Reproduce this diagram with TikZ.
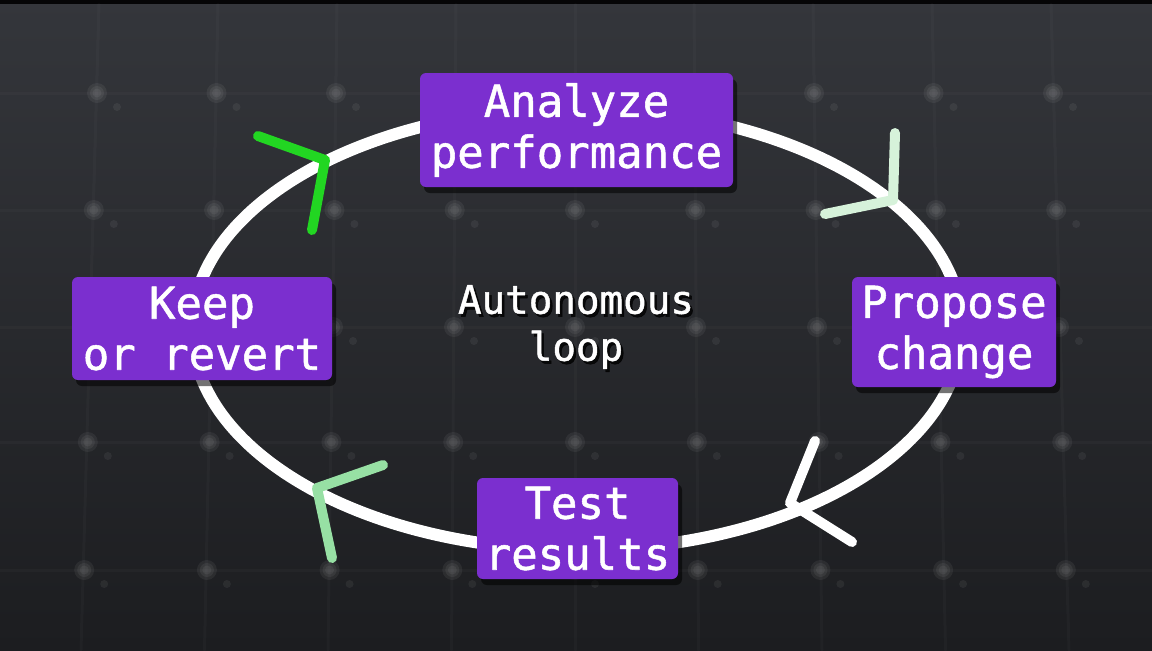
\documentclass[tikz,border=0pt]{standalone}
\usepackage{fontspec}
\newfontfamily\loopfont{DejaVu Sans Mono}[FakeBold=1.2]
\usetikzlibrary{positioning, shadows}
\definecolor{bgtop}{HTML}{34363B}
\definecolor{bgbottom}{HTML}{1C1D20}
\definecolor{stepviolet}{HTML}{7B2FCF}
\definecolor{chevpale}{HTML}{D6F2DA}
\definecolor{chevmint}{HTML}{97E0A4}
\definecolor{chevgreen}{HTML}{22D622}

\begin{document}
\begin{tikzpicture}[x=0.5pt, y=-0.5pt, line cap=round, line join=round,
  stepbox/.style={fill=stepviolet, rounded corners=3pt, text=white, align=center, inner sep=0pt,
    font=\loopfont\fontsize{22pt}{25.5pt}\selectfont,
    drop shadow={shadow xshift=2pt, shadow yshift=-3pt, fill=black, opacity=0.55}},
  hubtext/.style={align=center, inner sep=0pt, font=\loopfont\fontsize{19.6pt}{23.5pt}\selectfont},
  ring/.style={draw=white, line width=6pt},
  chevron/.style={line width=5pt},
  gridline/.style={white, opacity=0.025, line width=1.5pt},
  griddot/.style={fill=white, opacity=0.06}]
\useasboundingbox (0,0) rectangle (1152,650);
\fill[top color=bgtop, bottom color=bgbottom] (0,0) rectangle (1152,650);
\fill[black!90!bgtop] (0,0) rectangle (1152,4);
\foreach \k in {-4,...,4}
  \draw[gridline] ({575+\k*119},4) -- ({575+\k*123.5},650);
\foreach \y/\s in {93/119.5, 210/120.3, 327/121, 442/121.8, 570/122.7} {
  \draw[gridline] (0,\y) -- (1152,\y);
  \foreach \k in {-4,...,4} {
    \fill[griddot] ({575+\k*\s},\y) circle (10);
    \fill[griddot] ({575+\k*\s},\y) circle (7);
    \fill[griddot] ({575+\k*\s},\y) circle (4.5);
    \fill[griddot] ({575+\k*\s+20},{\y+14}) circle (4);
  }
}

\coordinate (hub) at (577,329);
\draw[ring] (hub) ellipse [x radius=385, y radius=221];

\draw[chevron, chevpale] (895,133) -- (893,200) -- (825,214);
\draw[chevron, white] (815,441) -- (790,503) -- (852,542);
\draw[chevron, chevmint] (383,465) -- (317,488) -- (332,558);
\draw[chevron, chevgreen] (258,136) -- (325,160) -- (312,230);

\node[stepbox, minimum width=156.5pt, minimum height=57pt] (analyze) at (576.5,130) {Analyze\\performance};
\node[stepbox, minimum width=102pt, minimum height=55pt] (propose) at (954,332) {Propose\\change};
\node[stepbox, minimum width=100.5pt, minimum height=50.5pt] (test) at (577.5,528.5) {Test\\results};
\node[stepbox, minimum width=130pt, minimum height=51.5pt] (keep) at (202,328.5) {Keep\\or revert};

\node[hubtext, text=black, opacity=0.8] (loopshade) at (578.5,330) {Autonomous\\loop};
\node[hubtext, text=white] (loop) at (576,327) {Autonomous\\loop};

\end{tikzpicture}
\end{document}
